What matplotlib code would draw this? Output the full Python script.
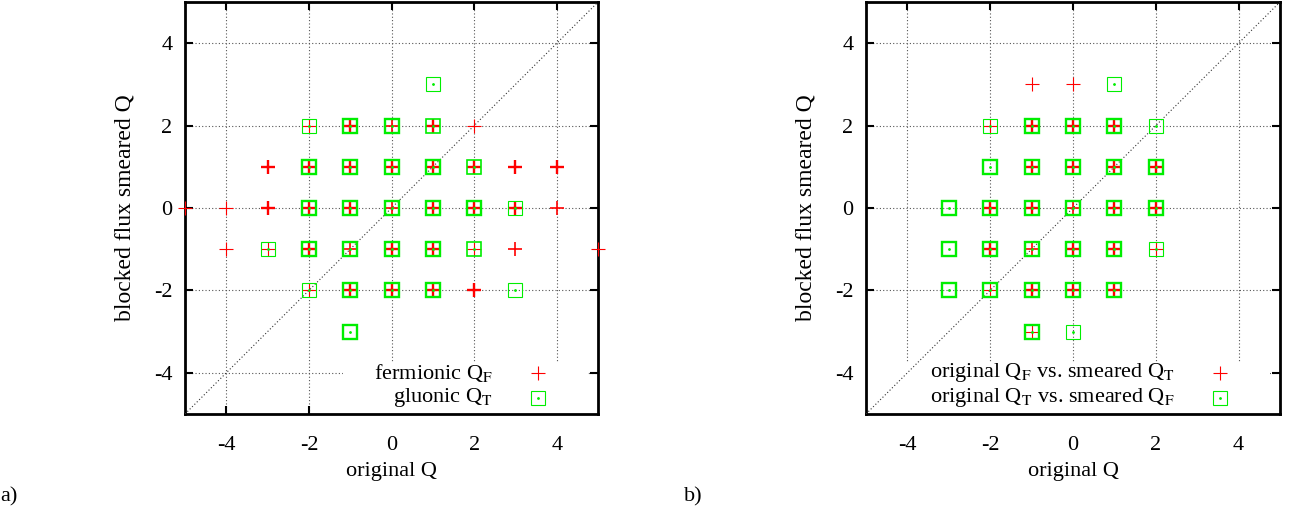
import matplotlib
matplotlib.use("Agg")
import matplotlib.pyplot as plt
from matplotlib.patches import Rectangle

plt.rcParams['font.family'] = ['Liberation Serif', 'DejaVu Serif']
plt.rcParams['mathtext.fontset'] = 'stix'
plt.rcParams['axes.unicode_minus'] = False

# panel a) fermionic Q_F vs blocked flux smeared Q (x, y, overlap count)
a_ferm_x = [-2, -1, 0, 1, 2,
            -3, -2, -1, 0, 1, 2, 3, 4,
            -5, -4, -3, -2, -1, 0, 1, 2, 3, 4,
            -4, -3, -2, -1, 0, 1, 2, 3, 5,
            -2, -1, 0, 1, 2]
a_ferm_y = [2, 2, 2, 2, 2,
            1, 1, 1, 1, 1, 1, 1, 1,
            0, 0, 0, 0, 0, 0, 0, 0, 0, 0,
            -1, -1, -1, -1, -1, -1, -1, -1, -1,
            -2, -2, -2, -2, -2]
a_ferm_n = [1, 3, 2, 3, 1,
            3, 3, 3, 3, 3, 3, 3, 3,
            1, 1, 3, 3, 3, 2, 3, 3, 3, 2,
            1, 1, 3, 2, 3, 3, 1, 2, 1,
            1, 3, 3, 3, 3]

# panel a) gluonic Q_T
a_gluo_x = [1,
            -2, -1, 0, 1,
            -2, -1, 0, 1, 2,
            -2, -1, 0, 1, 2, 3,
            -3, -2, -1, 0, 1, 2,
            -2, -1, 0, 1, 3,
            -1]
a_gluo_y = [3,
            2, 2, 2, 2,
            1, 1, 1, 1, 1,
            0, 0, 0, 0, 0, 0,
            -1, -1, -1, -1, -1, -1,
            -2, -2, -2, -2, -2,
            -3]
a_gluo_n = [1,
            1, 3, 3, 2,
            3, 3, 3, 3, 2,
            3, 3, 3, 3, 3, 1,
            1, 3, 3, 3, 3, 2,
            1, 3, 3, 3, 1,
            3]

# panel b) original Q_F vs smeared Q_T
b_ft_x = [-1, 0,
          -2, -1, 0, 1,
          -1, 0, 1, 2,
          -2, -1, 0, 1, 2,
          -2, -1, 0, 1, 2,
          -2, -1, 0, 1,
          -1]
b_ft_y = [3, 3,
          2, 2, 2, 2,
          1, 1, 1, 1,
          0, 0, 0, 0, 0,
          -1, -1, -1, -1, -1,
          -2, -2, -2, -2,
          -3]
b_ft_n = [1, 1,
          1, 3, 3, 3,
          3, 3, 3, 3,
          3, 3, 2, 3, 3,
          3, 2, 3, 3, 1,
          1, 3, 3, 3,
          1]

# panel b) original Q_T vs smeared Q_F
b_tf_x = [1,
          -2, -1, 0, 1, 2,
          -2, -1, 0, 1, 2,
          -3, -2, -1, 0, 1, 2,
          -3, -2, -1, 0, 1, 2,
          -3, -2, -1, 0, 1,
          -1, 0]
b_tf_y = [3,
          2, 2, 2, 2, 2,
          1, 1, 1, 1, 1,
          0, 0, 0, 0, 0, 0,
          -1, -1, -1, -1, -1, -1,
          -2, -2, -2, -2, -2,
          -3, -3]
b_tf_n = [1,
          1, 3, 3, 3, 1,
          3, 3, 3, 3, 3,
          3, 3, 3, 3, 3, 3,
          3, 3, 3, 3, 3, 1,
          3, 3, 3, 3, 3,
          3, 1]

ticks = [-4, -2, 0, 2, 4]
RED = '#ff0000'
GREEN = '#00ee00'
LW = {1: 0.8, 2: 1.2, 3: 1.7}
FS = 16


def draw_plus(ax, xs, ys, ns):
    for x, y, n in zip(xs, ys, ns):
        ax.plot(x, y, '+', color=RED, ms=10, mew=LW[n], clip_on=False, zorder=4)


def draw_box(ax, xs, ys, ns):
    for x, y, n in zip(xs, ys, ns):
        ax.plot(x, y, 's', mfc='none', mec=GREEN, ms=10, mew=LW[n], clip_on=False, zorder=5)
        ax.plot(x, y, '.', color=GREEN, ms=2, zorder=6)


def setup(ax, key_left, labels):
    ax.set_xlim(-5, 5)
    ax.set_ylim(-5, 5)
    ax.set_xticks(ticks)
    ax.set_yticks(ticks)
    ax.tick_params(direction='in', length=6, width=1.5, top=True, right=True,
                   labelsize=FS)
    ax.tick_params(axis='x', pad=16)
    ax.tick_params(axis='y', pad=9)
    for s in ax.spines.values():
        s.set_linewidth(2)
    ax.grid(True, linestyle=(0, (1, 2)), color='#555555', linewidth=0.8, zorder=1)
    ax.set_axisbelow(True)
    ax.plot([-5, 5], [-5, 5], linestyle=(0, (1, 2)), color='#333333', lw=0.8, zorder=3)
    # white key area hides the grid
    ax.add_patch(Rectangle((key_left, -5), 4.75 - key_left, 1.25, facecolor='white',
                           edgecolor='none', zorder=2))
    ax.text(2.45, -4.0, labels[0], ha='right', va='center', fontsize=FS, zorder=7)
    ax.text(2.45, -4.6, labels[1], ha='right', va='center', fontsize=FS, zorder=7)
    ax.plot(3.55, -4.0, '+', color=RED, ms=10, mew=0.8, zorder=7)
    ax.plot(3.55, -4.6, 's', mfc='none', mec=GREEN, ms=10, mew=0.8, zorder=7)
    ax.plot(3.55, -4.6, '.', color=GREEN, ms=2, zorder=7)
    ax.set_xlabel('original Q', fontsize=FS, labelpad=5)
    ax.set_ylabel('blocked flux smeared Q', fontsize=17, labelpad=13)


fig = plt.figure(figsize=(12.91, 5.18), dpi=100)
ax1 = fig.add_axes([0.1433, 0.2008, 0.320, 0.7954])
ax2 = fig.add_axes([0.6708, 0.2008, 0.3207, 0.7954])

draw_plus(ax1, a_ferm_x, a_ferm_y, a_ferm_n)
draw_box(ax1, a_gluo_x, a_gluo_y, a_gluo_n)
setup(ax1, -1.17, [r'fermionic Q$_{\rm F}$', r'gluonic Q$_{\rm T}$'])

draw_plus(ax2, b_ft_x, b_ft_y, b_ft_n)
draw_box(ax2, b_tf_x, b_tf_y, b_tf_n)
setup(ax2, -5, [r'original Q$_{\rm F}$ vs. smeared Q$_{\rm T}$',
                r'original Q$_{\rm T}$ vs. smeared Q$_{\rm F}$'])

fig.text(0.0, 0.04, 'a)', fontsize=FS, ha='left', va='center')
fig.text(0.53, 0.04, 'b)', fontsize=FS, ha='left', va='center')

fig.savefig('out.png', dpi=100)
